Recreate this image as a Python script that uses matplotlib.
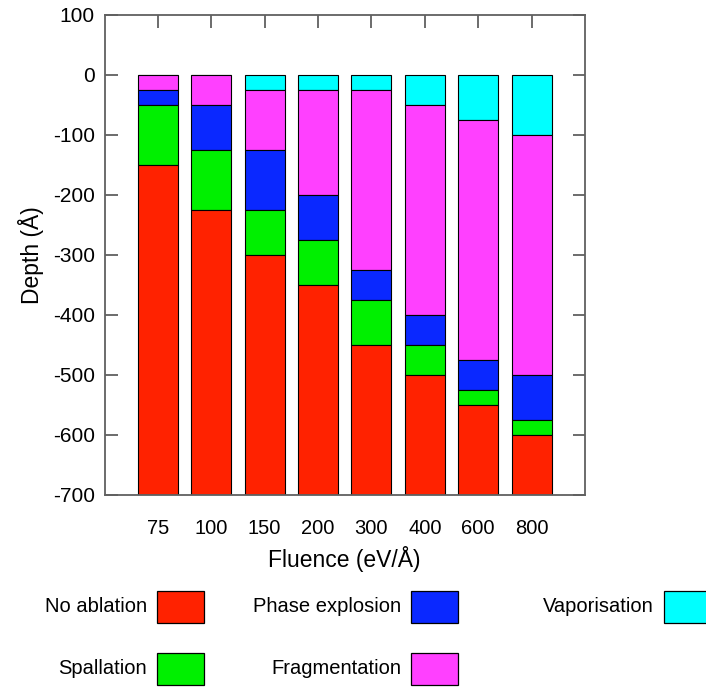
import matplotlib
matplotlib.use("Agg")
import matplotlib.pyplot as plt
from matplotlib.patches import Rectangle
import numpy as np

plt.rcParams['font.family'] = ['Liberation Sans', 'DejaVu Sans']
plt.rcParams['axes.unicode_minus'] = False

# Fluence categories and layer thicknesses (Angstrom), top (surface) to bottom
fluence = ["75", "100", "150", "200", "300", "400", "600", "800"]
vaporisation = [0, 0, 25, 25, 25, 50, 75, 100]
fragmentation = [25, 50, 100, 175, 300, 350, 400, 400]
phase_explosion = [25, 75, 100, 75, 50, 50, 50, 75]
spallation = [100, 100, 75, 75, 75, 50, 25, 25]
no_ablation = [550, 475, 400, 350, 250, 200, 150, 100]

layers = [
    ("Vaporisation", vaporisation, "#00ffff"),
    ("Fragmentation", fragmentation, "#ff40ff"),
    ("Phase explosion", phase_explosion, "#0a28ff"),
    ("Spallation", spallation, "#00f000"),
    ("No ablation", no_ablation, "#ff2200"),
]
colors = {name: c for name, _, c in layers}

W, H = 706, 687
fig = plt.figure(figsize=(W / 100, H / 100), dpi=100)
ax = fig.add_axes([104.5 / W, 1 - 495 / H, 480.5 / W, 480 / H])

x = np.arange(len(fluence))
top = np.zeros(len(fluence))
for name, vals, c in layers:
    vals = np.array(vals, dtype=float)
    ax.bar(x, -vals, bottom=-top, width=0.75, color=c, edgecolor="black",
           linewidth=0.8, zorder=2)
    top = top + vals

ax.set_xlim(-1, 8)
ax.set_ylim(-700, 100)
ax.set_yticks(np.arange(-700, 101, 100))
ax.set_xticks(x)
ax.set_xticklabels(fluence)
for s in ax.spines.values():
    s.set_color("#606060")
    s.set_linewidth(1.3)
ax.tick_params(axis="y", direction="in", length=9, width=1.3, color="#606060",
               right=True, labelsize=15, pad=7)
ax.tick_params(axis="x", direction="in", length=0, top=False, labelsize=14.5, pad=17)
ax2 = ax.secondary_xaxis("top")
ax2.set_xticks(x)
ax2.tick_params(direction="in", length=9, width=1.3, color="#606060", labeltop=False)
ax2.spines["top"].set_visible(False)

ax.set_ylabel("Depth (Å)", fontsize=16.5, labelpad=6)
ax.set_xlabel("Fluence (eV/Å)", fontsize=16.5, labelpad=6)

# legend drawn by hand, three columns
legend_items = [
    ("No ablation", 157, 591),
    ("Phase explosion", 411, 591),
    ("Vaporisation", 664, 591),
    ("Spallation", 157, 653),
    ("Fragmentation", 411, 653),
]
for name, px, py in legend_items:
    fig.add_artist(Rectangle((px / W, 1 - (py + 32) / H), 47 / W, 32 / H,
                             transform=fig.transFigure, facecolor=colors[name],
                             edgecolor="black", linewidth=0.9))
    fig.text((px - 10) / W, 1 - (py + 16) / H, name, ha="right", va="center",
             fontsize=14.5)

fig.savefig("out.png", dpi=100)
